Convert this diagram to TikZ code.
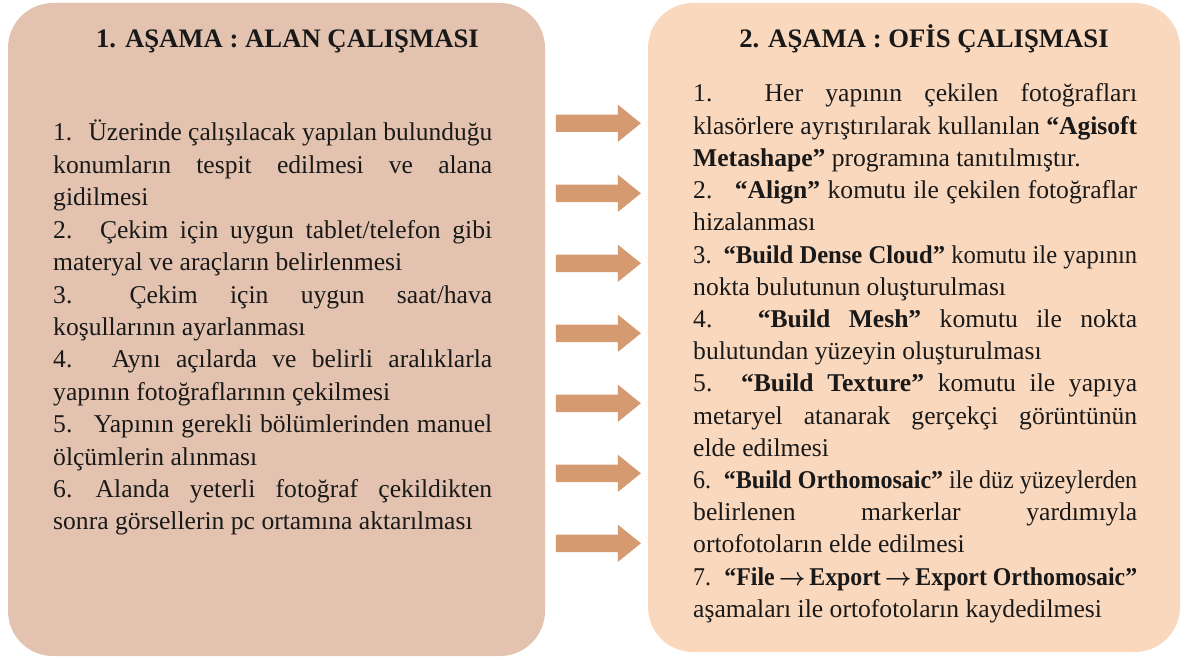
\documentclass[tikz,border=0pt]{standalone}
\usepackage{fontspec}
\IfFontExistsTF{LiberationSerif-Regular.ttf}{%
  \setmainfont{LiberationSerif}[Extension=.ttf,UprightFont=*-Regular,BoldFont=*-Bold,ItalicFont=*-Italic,BoldItalicFont=*-BoldItalic]}{%
  \setmainfont{Liberation Serif}}
\usepackage{graphicx}
\usetikzlibrary{shapes.arrows}
\definecolor{leftfill}{RGB}{227,195,175}
\definecolor{rightfill}{RGB}{250,216,189}
\definecolor{arrowfill}{RGB}{214,154,113}
\definecolor{txt}{RGB}{25,25,25}
\newsavebox\jbox
\newlength\jwidth
\newcommand\jline[1]{\sbox\jbox{#1}\ifdim\wd\jbox>\jwidth\relax\resizebox{\jwidth}{\height}{\usebox\jbox}\else\makebox[\jwidth][s]{#1}\fi}
\newcommand\rarr{\,{\boldmath$\rightarrow$}\,}
\tikzset{
  panel/.style={rectangle, rounded corners=45pt, draw=none, inner sep=0pt},
  blockarrow/.style={single arrow, fill=arrowfill, draw=none, inner sep=0pt,
    minimum height=85pt, minimum width=37pt, single arrow head extend=10pt,
    single arrow tip angle=78},
  title/.style={anchor=base, inner sep=0pt, text=txt, font=\fontsize{26.7}{32}\selectfont\bfseries},
  body/.style={anchor=base west, inner sep=0pt, text=txt, font=\fontsize{25.6}{32}\selectfont\frenchspacing},
}
\begin{document}
\begin{tikzpicture}[x=1pt,y=-1pt]
\path[use as bounding box] (0,0) rectangle (1181,658);
\node[panel, fill=leftfill, minimum width=537pt, minimum height=653pt] (leftbox) at (276.5,329.5) {};
\node[panel, fill=rightfill, minimum width=532pt, minimum height=649pt] (rightbox) at (914,327.5) {};
\foreach \i/\yy in {1/123.3,2/193.3,3/263.3,4/333.3,5/403.3,6/473.3,7/543.3}
  \node[blockarrow] (arrow\i) at (593,\yy) {\rule{0pt}{17pt}};
\node[title] (lefttitle) at (287.5,48) {1. AŞAMA : ALAN ÇALIŞMASI};
\node[title] (righttitle) at (924,48) {2. AŞAMA : OFİS ÇALIŞMASI};
% left text
\setlength\jwidth{439pt}
\node[body] (l0) at (53,141) {\jline{1.\hspace{10pt} Üzerinde çalışılacak yapılan bulunduğu}};
\node[body] (l1) at (53,173.4) {\jline{konumların tespit edilmesi ve alana}};
\node[body] (l2) at (53,205.8) {gidilmesi};
\node[body] (l3) at (53,238.2) {\jline{2.\hspace{16pt} Çekim için uygun tablet/telefon gibi}};
\node[body] (l4) at (53,270.6) {materyal ve araçların belirlenmesi};
\node[body] (l5) at (53,303) {\jline{3.\hspace{25pt} Çekim için uygun saat/hava}};
\node[body] (l6) at (53,335.4) {koşullarının ayarlanması};
\node[body] (l7) at (53,367.8) {\jline{4.\hspace{24pt} Aynı açılarda ve belirli aralıklarla}};
\node[body] (l8) at (53,400.2) {yapının fotoğraflarının çekilmesi};
\node[body] (l9) at (53,432.6) {\jline{5.\hspace{14pt} Yapının gerekli bölümlerinden manuel}};
\node[body] (l10) at (53,465) {ölçümlerin alınması};
\node[body] (l11) at (53,497.4) {\jline{6.\hspace{3pt} Alanda yeterli fotoğraf çekildikten}};
\node[body] (l12) at (53,529.8) {sonra görsellerin pc ortamına aktarılması};
% right text
\setlength\jwidth{444pt}
\node[body] (r0) at (693,102) {\jline{1.\hspace{30pt} Her yapının çekilen fotoğrafları}};
\node[body] (r1) at (693,134.2) {\jline{klasörlere ayrıştırılarak kullanılan \textbf{“Agisoft}}};
\node[body] (r2) at (693,166.4) {\textbf{Metashape”} programına tanıtılmıştır.};
\node[body] (r3) at (693,198.6) {\jline{2.\hspace{15pt} \textbf{“Align”} komutu ile çekilen fotoğraflar}};
\node[body] (r4) at (693,230.8) {hizalanması};
\node[body] (r5) at (693,263) {\jline{3.\hspace{6pt} \textbf{“Build Dense Cloud”} komutu ile yapının}};
\node[body] (r6) at (693,295.2) {nokta bulutunun oluşturulması};
\node[body] (r7) at (693,327.4) {\jline{4.\hspace{27pt} \textbf{“Build Mesh”} komutu ile nokta}};
\node[body] (r8) at (693,359.6) {bulutundan yüzeyin oluşturulması};
\node[body] (r9) at (693,391.8) {\jline{5.\hspace{15pt} \textbf{“Build Texture”} komutu ile yapıya}};
\node[body] (r10) at (693,424) {\jline{metaryel atanarak gerçekçi görüntünün}};
\node[body] (r11) at (693,456.2) {elde edilmesi};
\node[body] (r12) at (693,488.4) {\jline{6.\hspace{7pt} \textbf{“Build Orthomosaic”} ile düz yüzeylerden}};
\node[body] (r13) at (693,520.6) {\jline{belirlenen markerlar yardımıyla}};
\node[body] (r14) at (693,552.8) {ortofotoların elde edilmesi};
\node[body] (r15) at (693,585) {\jline{7.\hspace{8pt} \textbf{“File\rarr Export\rarr Export Orthomosaic”}}};
\node[body] (r16) at (693,617.2) {aşamaları ile ortofotoların kaydedilmesi};
\end{tikzpicture}
\end{document}
